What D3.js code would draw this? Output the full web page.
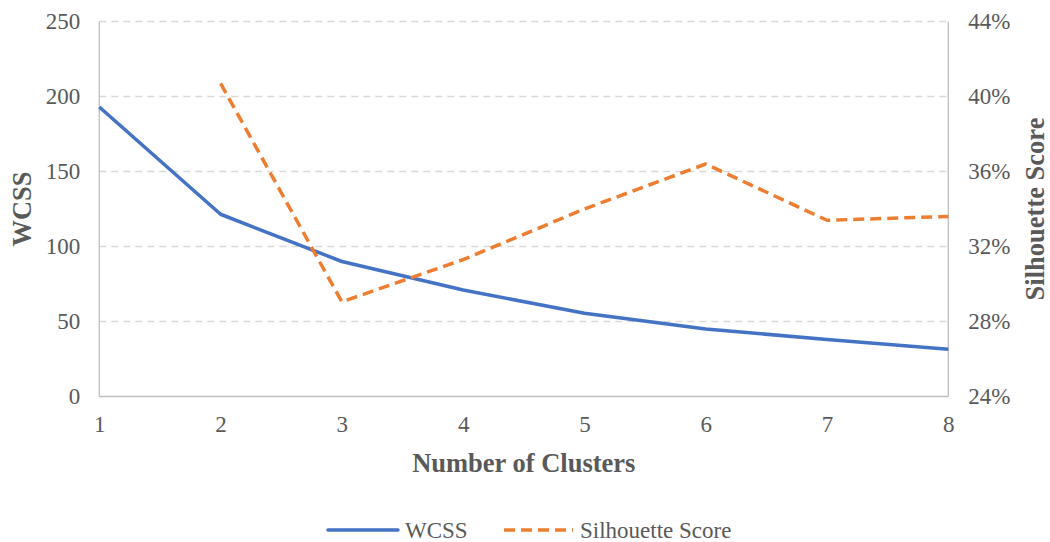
<!DOCTYPE html>
<html>
<head>
<meta charset="utf-8">
<script src="https://cdn.jsdelivr.net/npm/d3@7"></script>
<style>
  body { margin: 0; background: #fff; }
  svg text { font-family: "Liberation Serif", "Times New Roman", Times, "DejaVu Serif", serif !important; fill: #595959; }
</style>
</head>
<body>
<svg id="chart" width="1050" height="542"></svg>
<script>
const clusters = [1, 2, 3, 4, 5, 6, 7, 8];
const wcss = [193, 121.5, 90, 71, 55.5, 45, 38, 31.5];
const silhouetteClusters = [2, 3, 4, 5, 6, 7, 8];
const silhouette = [0.407, 0.2905, 0.313, 0.340, 0.364, 0.334, 0.336];
const leftTicks = [0, 50, 100, 150, 200, 250];
const rightTicks = [0.24, 0.28, 0.32, 0.36, 0.40, 0.44];

const FONT = '"Liberation Serif", "Times New Roman", Times, "DejaVu Serif", serif';
const svg = d3.select("#chart");
const pLeft = 99.3, pRight = 948.3, pTop = 21.5, pBottom = 396.5;

const x = d3.scaleLinear().domain([1, 8]).range([pLeft, pRight]);
const yL = d3.scaleLinear().domain([0, 250]).range([pBottom, pTop]);
const yR = d3.scaleLinear().domain([0.24, 0.44]).range([pBottom, pTop]);

// gridlines
svg.append("g").selectAll("line").data(leftTicks.filter(d => d > 0)).join("line")
  .attr("x1", pLeft).attr("x2", pRight)
  .attr("y1", d => yL(d)).attr("y2", d => yL(d))
  .attr("stroke", "#D9D9D9").attr("stroke-width", 1.3).attr("stroke-dasharray", "7,5");

// axes lines
const axisColor = "#BFBFBF";
svg.append("line").attr("x1", pLeft).attr("x2", pLeft).attr("y1", pTop).attr("y2", pBottom).attr("stroke", axisColor).attr("stroke-width", 1.3);
svg.append("line").attr("x1", pRight).attr("x2", pRight).attr("y1", pTop).attr("y2", pBottom).attr("stroke", axisColor).attr("stroke-width", 1.3);
svg.append("line").attr("x1", pLeft).attr("x2", pRight).attr("y1", pBottom).attr("y2", pBottom).attr("stroke", axisColor).attr("stroke-width", 1.3);

function styleAxis(g) {
  g.attr("font-family", FONT).attr("font-size", 23);
  g.select(".domain").remove();
  g.selectAll("text").attr("fill", "#595959").style("font-family", FONT).style("font-size", "23px");
}

// left axis labels
svg.append("g").attr("transform", `translate(${pLeft},0)`)
  .call(d3.axisLeft(yL).tickValues(leftTicks).tickSize(0).tickPadding(19)).call(styleAxis);

// right axis labels
svg.append("g").attr("transform", `translate(${pRight},0)`)
  .call(d3.axisRight(yR).tickValues(rightTicks).tickSize(0).tickPadding(20).tickFormat(d3.format(".0%"))).call(styleAxis);

// bottom axis labels
svg.append("g").attr("transform", `translate(0,${pBottom})`)
  .call(d3.axisBottom(x).tickValues(clusters).tickSize(0).tickPadding(19).tickFormat(d3.format("d"))).call(styleAxis);

// lines
const wcssLine = d3.line().x((d, i) => x(clusters[i])).y(d => yL(d));
svg.append("path").datum(wcss).attr("d", wcssLine)
  .attr("fill", "none").attr("stroke", "#4472C4").attr("stroke-width", 3.5).attr("stroke-linejoin", "round");

const silLine = d3.line().x((d, i) => x(silhouetteClusters[i])).y(d => yR(d));
svg.append("path").datum(silhouette).attr("d", silLine)
  .attr("fill", "none").attr("stroke", "#ED7D31").attr("stroke-width", 3.5)
  .attr("stroke-dasharray", "11,6").attr("stroke-linejoin", "round");

// axis titles
svg.append("text").attr("x", (pLeft + pRight) / 2).attr("y", 472)
  .attr("text-anchor", "middle").style("font-size", "26.5px").style("font-weight", "bold").text("Number of Clusters");
svg.append("text").attr("transform", `translate(31,${(pTop + pBottom) / 2}) rotate(-90)`)
  .attr("text-anchor", "middle").style("font-size", "26.5px").style("font-weight", "bold").text("WCSS");
svg.append("text").attr("transform", `translate(1044,${(pTop + pBottom) / 2}) rotate(-90)`)
  .attr("text-anchor", "middle").style("font-size", "26.5px").style("font-weight", "bold").text("Silhouette Score");

// legend
const legend = svg.append("g");
legend.append("line").attr("x1", 328).attr("x2", 398).attr("y1", 530).attr("y2", 530)
  .attr("stroke", "#4472C4").attr("stroke-width", 3.5).attr("stroke-linecap", "round");
legend.append("text").attr("x", 405).attr("y", 538).style("font-size", "23px").text("WCSS");
legend.append("line").attr("x1", 504).attr("x2", 573).attr("y1", 530).attr("y2", 530)
  .attr("stroke", "#ED7D31").attr("stroke-width", 3.5).attr("stroke-dasharray", "11,6");
legend.append("text").attr("x", 580).attr("y", 538).style("font-size", "23px").text("Silhouette Score");
</script>
</body>
</html>
